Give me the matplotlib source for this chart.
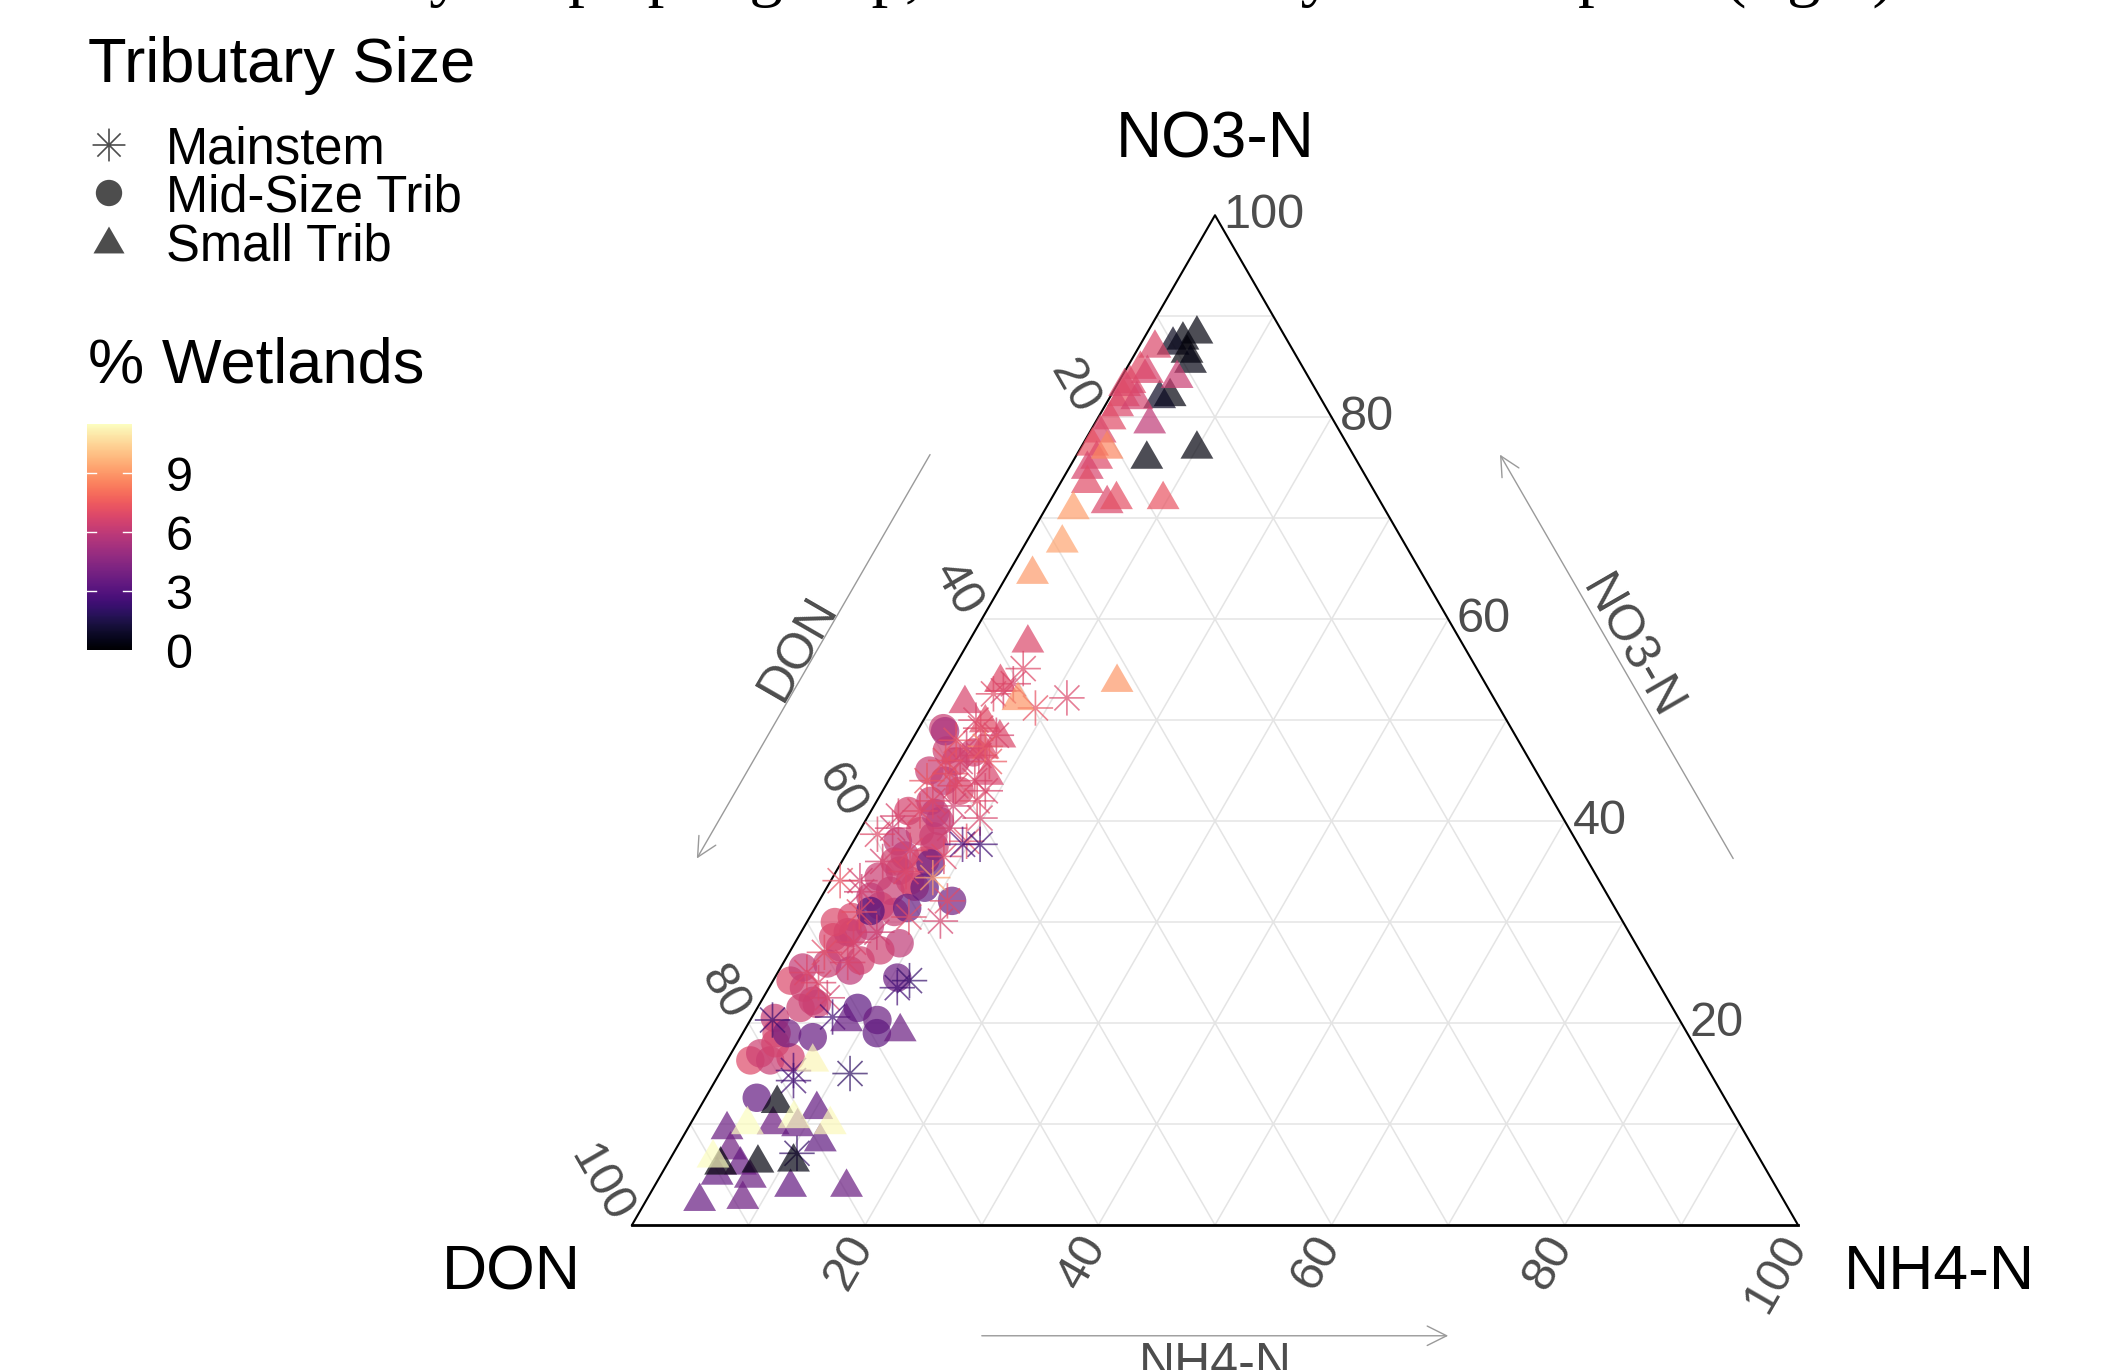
import numpy as np
import matplotlib
matplotlib.use("Agg")
import matplotlib.pyplot as plt
from matplotlib.path import Path
from matplotlib.colors import Normalize
from matplotlib.cm import ScalarMappable

plt.rcParams["font.family"] = ["Liberation Sans", "DejaVu Sans"]

# composition in percent; DON is the remainder (100 - NO3 - NH4)
# Mainstem sites
main_no3 = [55.1, 52.9, 51.2, 52.2, 52.6, 53.6, 49.2, 47.2, 44.7, 45.9,
            44.0, 42.0, 40.3, 44.0, 42.0, 39.3, 38.0, 39.3, 38.7, 30.1,
            32.1, 37.1, 34.1, 34.1, 45.9, 43.0, 41.0, 36.0, 35.0, 31.0,
            29.0, 27.0, 26.0, 24.0, 48.0, 46.5, 43.5, 41.5,
            50.0, 48.5, 46.0, 40.5, 36.5, 33.0, 30.5, 28.0, 25.0, 22.5,
            34.4, 47.4,
            37.7, 37.7, 24.2, 23.5, 20.6, 20.3, 15.0, 15.3, 14.3, 7.1]
main_nh4 = [6.0, 5.4, 9.0, 11.2, 4.7, 5.9, 5.3, 5.1, 4.9, 5.2,
            7.4, 8.6, 9.7, 3.3, 4.8, 7.6, 9.7, 2.7, 1.7, 11.4,
            11.0, 5.3, 2.5, 0.8, 7.7, 8.8, 4.2, 3.5, 6.0, 4.0,
            6.5, 3.0, 5.5, 4.0, 3.8, 6.5, 6.0, 6.8,
            4.5, 7.0, 3.9, 2.6, 8.5, 3.2, 8.5, 5.0, 2.5, 5.5,
            8.6, 6.6,
            11.0, 9.5, 11.7, 11.0, 6.9, 1.9, 11.2, 6.2, 6.7, 10.6]
main_wet = [6.9, 6.6, 7.2, 6.8, 7.0, 6.7, 6.9, 6.5, 7.1, 6.6,
            6.8, 7.0, 6.7, 7.3, 6.8, 6.5, 7.1, 6.4, 6.9, 6.6,
            7.0, 6.8, 6.5, 7.2, 7.4, 6.7, 6.9, 6.6, 6.8, 7.1,
            6.4, 7.0, 6.7, 6.8, 7.2, 6.6, 6.9, 6.5,
            6.8, 6.6, 7.1, 6.7, 6.9, 6.5, 7.0, 6.7, 6.8, 6.6,
            9.2, 8.8,
            2.4, 2.8, 2.2, 2.6, 2.5, 2.3, 2.0, 2.7, 2.4, 2.1]

# Mid-size tributaries
mid_no3 = [49.2, 45.9, 44.0, 43.0, 42.0, 40.0, 39.0, 37.5, 36.6, 34.1,
           33.1, 31.6, 29.6, 28.5, 28.9, 27.9, 27.2, 27.5, 25.9, 25.2,
           26.2, 24.2, 22.2, 21.5, 21.9, 19.0, 16.3, 16.3, 16.6, 17.0,
           36.1, 35.1, 25.5,
           47.0, 45.0, 41.0, 38.0, 36.0, 34.5, 32.5, 30.5, 29.0, 31.0,
           33.5, 38.5, 40.8, 46.8, 30.0, 23.5, 20.5, 18.0,
           48.9,
           35.8, 33.4, 32.1, 31.1, 31.4, 24.5, 21.5, 20.3, 19.0, 19.0,
           18.6, 12.6]
mid_nh4 = [2.1, 4.8, 4.8, 6.6, 4.6, 6.4, 5.2, 7.2, 5.1, 6.8,
           5.6, 5.5, 5.6, 3.0, 4.5, 9.0, 7.7, 4.1, 3.8, 6.1,
           6.5, 1.5, 4.4, 3.7, 4.9, 2.9, 2.0, 3.7, 5.3, 2.5,
           7.1, 5.4, 1.9,
           3.5, 3.0, 3.2, 3.8, 4.5, 3.9, 4.2, 3.6, 4.0, 7.0,
           7.5, 6.6, 5.6, 5.9, 2.4, 3.0, 2.0, 3.3,
           2.4,
           7.7, 8.4, 11.4, 4.9, 7.9, 10.5, 8.6, 10.9, 11.5, 3.8,
           6.2, 4.4]
mid_wet = [6.2, 6.5, 6.0, 6.7, 6.3, 6.1, 6.6, 6.4, 5.9, 6.8,
           6.2, 6.5, 6.1, 6.7, 6.3, 6.0, 6.4, 6.6, 6.2, 5.9,
           6.5, 6.8, 6.1, 6.4, 6.3, 6.7, 6.9, 6.2, 6.5, 6.4,
           6.8, 6.3, 6.1,
           6.4, 6.2, 6.6, 6.0, 6.5, 6.3, 6.1, 6.7, 6.4, 6.2,
           6.6, 6.3, 6.0, 6.5, 6.8, 6.4, 6.2, 6.6,
           5.4,
           3.6, 3.4, 3.8, 2.8, 3.5, 3.7, 3.2, 3.6, 3.3, 3.9,
           3.5, 3.4]

# Small tributaries
small_no3 = [88.7, 88.1, 87.6, 86.8, 85.8, 82.5, 82.3, 76.3, 77.3,
             84.3, 79.8,
             87.3, 85.2, 84.8, 83.8, 82.5, 81.5, 82.2, 80.2, 78.9, 77.6,
             76.3, 75.3, 73.9, 71.9, 72.3, 72.3, 83.5,
             71.3, 77.3, 68.0, 64.9,
             58.1, 54.2, 54.2, 52.1, 52.4, 50.2, 48.7, 47.6, 45.0,
             20.6, 19.6, 11.9, 10.4, 10.2, 8.7, 9.9, 7.9, 6.4, 5.4,
             5.1, 2.8, 3.0, 4.2, 4.2,
             12.5, 6.4, 6.6, 6.7,
             10.4, 10.4, 7.1, 16.6, 11.0]
small_nh4 = [4.1, 3.2, 2.6, 4.2, 5.0, 4.9, 4.1, 6.0, 9.8,
             4.6, 4.5,
             1.2, 1.0, 1.8, 0.8, 0.9, 0.9, 2.2, 0.9, 0.7, 0.7,
             1.7, 1.4, 2.1, 4.8, 5.4, 9.4, 0.5,
             2.2, 2.1, 2.9, 1.9,
             4.9, 14.5, 4.5, 2.5, 6.9, 5.2, 7.2, 6.3, 8.0,
             8.1, 13.2, 9.9, 6.9, 9.1, 11.8, 3.2, 4.5, 6.1, 4.6,
             7.6, 4.4, 8.0, 11.5, 16.3,
             6.2, 4.4, 7.5, 10.5,
             4.7, 11.8, 3.4, 7.2, 8.4]
small_wet = [0.3, 0.3, 0.6, 0.2, 0.4, 0.3, 0.8, 0.3, 0.3,
             6.3, 6.0,
             6.8, 7.0, 6.7, 6.9, 7.3, 6.8, 6.6, 7.0, 6.8, 7.2,
             6.9, 6.7, 7.0, 6.8, 7.1, 7.3, 6.8,
             9.2, 8.6, 9.3, 9.1,
             6.8, 9.0, 6.9, 6.7, 8.9, 7.0, 6.8, 6.9, 6.7,
             3.5, 3.6, 3.4, 3.7, 3.5, 3.3, 3.6, 3.8, 3.5, 3.4,
             3.6, 3.5, 3.7, 3.4, 3.6,
             0.3, 0.2, 0.3, 0.4,
             11.5, 11.4, 11.5, 11.3, 11.5]

wet_ticks = [0, 3, 6, 9]
wet_max = 11.5

SQ3 = np.sqrt(3) / 2
PX = 11.66  # pixels per composition unit


def proj(no3, nh4):
    no3 = np.asarray(no3, dtype=float)
    nh4 = np.asarray(nh4, dtype=float)
    return nh4 + no3 / 2, no3 * SQ3


fig = plt.figure(figsize=(21.1, 13.7), dpi=100)
ax = fig.add_axes([0, 0, 1, 1])
xmin, ymin = -632 / PX, -145 / PX
ax.set_xlim(xmin, xmin + 2110 / PX)
ax.set_ylim(ymin, ymin + 1370 / PX)
ax.axis("off")

cmap = plt.get_cmap("magma")
norm = Normalize(0, wet_max)

# grid lines every 10 %
grid_kw = dict(color="#E4E4E4", lw=1.1, zorder=1)
for k in range(10, 100, 10):
    x, y = proj([k, k], [0, 100 - k])
    ax.plot(x, y, **grid_kw)
    x, y = proj([0, 100 - k], [k, k])
    ax.plot(x, y, **grid_kw)
    x, y = proj([100 - k, 0], [0, 100 - k])
    ax.plot(x, y, **grid_kw)

# triangle frame
ax.plot([0, 50, 100], [0, 86.6, 0], color="black", lw=1.5, zorder=2)
ax.plot([0, 100], [0, 0], color="black", lw=2.0, zorder=2)

# markers
star = Path([(-1, 0), (1, 0), (0, -1), (0, 1),
             (-0.707, -0.707), (0.707, 0.707), (-0.707, 0.707), (0.707, -0.707)],
            [Path.MOVETO, Path.LINETO] * 4)
tri = [(0, 0.433), (-0.5, -0.433), (0.5, -0.433)]


def colours(w):
    c = cmap(norm(np.asarray(w)))
    c[:, 3] = 0.7
    return c


x, y = proj(mid_no3, mid_nh4)
ax.scatter(x, y, s=420, marker="o", facecolors=colours(mid_wet),
           edgecolors="none", zorder=3)
x, y = proj(main_no3, main_nh4)
ax.scatter(x, y, s=650, marker=star, facecolors="none",
           edgecolors=colours(main_wet), linewidths=1.2, zorder=4)
x, y = proj(small_no3, small_nh4)
ax.scatter(x, y, s=560, marker=tri, facecolors=colours(small_wet),
           edgecolors="none", zorder=5)

# tick labels
tick_kw = dict(fontsize=35, color="#4D4D4D")
nrm_l = np.array([-0.866, 0.5])
for k in range(20, 101, 20):
    # NO3-N on the right edge
    ex, ey = proj(k, 100 - k)
    ax.text(ex + 0.7, ey, str(k), ha="left", va="center", **tick_kw)
    # DON on the left edge
    ex, ey = proj(100 - k, 0)
    ax.text(ex + 1.1 * nrm_l[0], ey + 1.1 * nrm_l[1], str(k), rotation=-60,
            rotation_mode="anchor", ha="right", va="center", **tick_kw)
    # NH4-N on the bottom edge
    ex, ey = proj(0, k)
    ax.text(ex - 0.2, ey - 1.2, str(k), rotation=60,
            rotation_mode="anchor", ha="right", va="center", **tick_kw)

# corner labels
ax.text(50, 91.55, "NO3-N", ha="center", va="baseline", fontsize=46)
ax.text(-4.4, -5.5, "DON", ha="right", va="baseline", fontsize=45)
ax.text(103.9, -5.5, "NH4-N", ha="left", va="baseline", fontsize=45)

# axis arrows with titles
arr = dict(arrowstyle="->", color="#9A9A9A", lw=1.0, mutation_scale=35,
           shrinkA=0, shrinkB=0)
off = 10.9
nrm_r = np.array([0.866, 0.5])
p0 = np.array(proj(70, 0)) + off * nrm_l
p1 = np.array(proj(30, 0)) + off * nrm_l
ax.annotate("", xy=p1, xytext=p0, arrowprops=arr)
pm = (p0 + p1) / 2 + 0.35 * nrm_l
ax.text(pm[0], pm[1], "DON", rotation=60, rotation_mode="anchor",
        ha="center", va="baseline", fontsize=36, color="#4D4D4D")

p0 = np.array(proj(30, 70)) + off * nrm_r
p1 = np.array(proj(70, 30)) + off * nrm_r
ax.annotate("", xy=p1, xytext=p0, arrowprops=arr)
pm = (p0 + p1) / 2 + 0.35 * nrm_r
ax.text(pm[0], pm[1], "NO3-N", rotation=-60, rotation_mode="anchor",
        ha="center", va="baseline", fontsize=36, color="#4D4D4D")

ax.annotate("", xy=(70, -9.5), xytext=(30, -9.5), arrowprops=arr)
ax.text(50, -13.1, "NH4-N", ha="center", va="baseline", fontsize=36,
        color="#4D4D4D")

# legend: tributary size
lax = fig.add_axes([0, 0, 1, 1], zorder=5)
lax.set_xlim(0, 2110)
lax.set_ylim(1370, 0)
lax.axis("off")
lax.patch.set_visible(False)

lax.text(88, 82, "Tributary Size", fontsize=45.5, va="baseline")
key = "#4D4D4D"
lax.scatter([109], [145], s=560, marker=star, facecolors="none",
            edgecolors=key, linewidths=1.2)
lax.scatter([109], [193], s=360, marker="o", color=key, edgecolors="none")
lax.scatter([109], [240], s=500, marker=tri, color=key, edgecolors="none")
for lab, yb in zip(["Mainstem", "Mid-Size Trib", "Small Trib"], [163, 211, 260]):
    lax.text(166, yb, lab, fontsize=36.5, va="baseline")

lax.text(88, 382, "% Wetlands", fontsize=45.5, va="baseline")

# colour bar
cax = fig.add_axes([87 / 2110, 720 / 1370, 45 / 2110, 226 / 1370])
cb = fig.colorbar(ScalarMappable(norm=norm, cmap=cmap), cax=cax, ticks=wet_ticks)
cb.outline.set_visible(False)
cax.tick_params(length=0, labelsize=35, pad=24)
for t in wet_ticks[1:]:
    cax.plot([0, 0.2], [t, t], color="white", lw=1)
    cax.plot([0.8, 1], [t, t], color="white", lw=1)

# remnant of the caption line above the figure
fig.text(1895 / 2110, 1 + 6 / 1370,
         "by shape per group, and colored by wetland plots (right)",
         family=["Liberation Serif", "DejaVu Serif"], fontsize=48,
         ha="right", va="baseline")

fig.savefig("out.png", dpi=100, facecolor="white")
